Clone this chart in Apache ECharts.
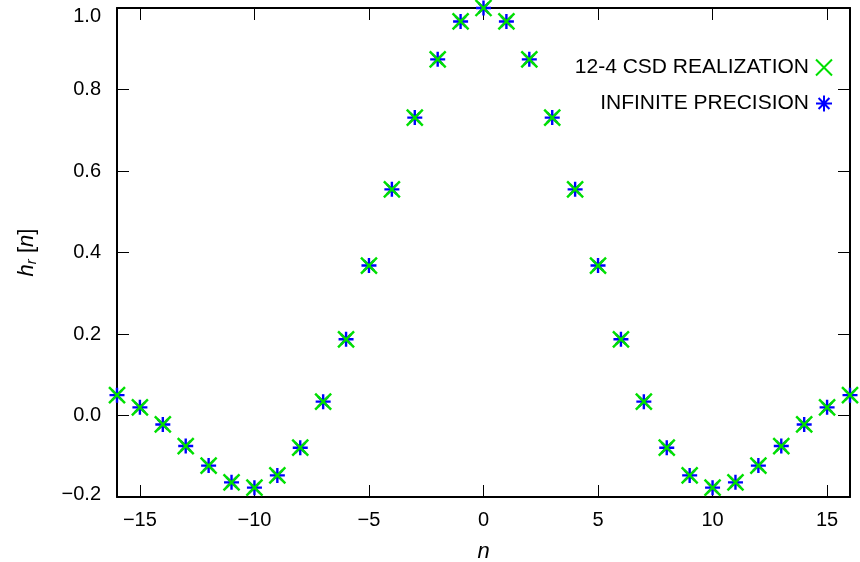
<!DOCTYPE html>
<html>
<head>
<meta charset="utf-8">
<script src="https://cdn.jsdelivr.net/npm/echarts@6/dist/echarts.min.js"></script>
<style>html,body{margin:0;padding:0;background:#fff}#c{width:860px;height:562px}</style>
</head>
<body>
<div id="c"></div>
<script>
const nValues = [-16,-15,-14,-13,-12,-11,-10,-9,-8,-7,-6,-5,-4,-3,-2,-1,0,1,2,3,4,5,6,7,8,9,10,11,12,13,14,15,16];
const csdValues = [0.05,0.02,-0.022,-0.075,-0.123,-0.164,-0.177,-0.147,-0.079,0.034,0.187,0.368,0.555,0.731,0.874,0.967,1.0,0.967,0.874,0.731,0.555,0.368,0.187,0.034,-0.079,-0.147,-0.177,-0.164,-0.123,-0.075,-0.022,0.02,0.05];
const infValues = [0.05,0.02,-0.022,-0.075,-0.123,-0.164,-0.177,-0.147,-0.079,0.034,0.187,0.368,0.555,0.731,0.874,0.967,1.0,0.967,0.874,0.731,0.555,0.368,0.187,0.034,-0.079,-0.147,-0.177,-0.164,-0.123,-0.075,-0.022,0.02,0.05];
const xTicks = [-15,-10,-5,0,5,10,15];
const seriesNames = ['12-4 CSD REALIZATION','INFINITE PRECISION'];

const FONT = 'Liberation Sans, Arial, Helvetica, sans-serif';
const XPATH = 'path://M0,0L10,10M10,0L0,10';
const STAR = 'path://M5,0L5,10M0,5L10,5M1.6,1.6L8.4,8.4M8.4,1.6L1.6,8.4';
const fmtX = v => String(v).replace('-', '\u2212');
const fmtY = v => {
  if (Math.abs(v) < 1e-9) return '0.0';
  const s = v.toFixed(1).replace('-', '\u2212');
  if (Math.abs(v - 1.0) < 1e-9) return '{top|' + s + '}';
  if (Math.abs(v + 0.2) < 1e-9) return '{bot|' + s + '}';
  return s;
};

const chart = echarts.init(document.getElementById('c'), null, {renderer:'canvas'});
const axisLine = {show:true, onZero:false, lineStyle:{color:'#000', width:2}};
const lblStyle = {fontFamily:FONT, fontSize:20, color:'#000'};
const tick = {show:true, inside:true, length:12, lineStyle:{color:'#000', width:1}};
chart.setOption({
  animation:false,
  backgroundColor:'#fff',
  grid:{left:117, right:10, top:8, bottom:65, containLabel:false, outerBoundsMode:'none'},
  legend:{
    orient:'vertical', right:22, top:52, align:'right', itemGap:15,
    itemWidth:16, itemHeight:16,
    textStyle:{fontFamily:FONT, fontSize:21, color:'#000', padding:[0,2,0,0]},
    data:seriesNames
  },
  xAxis:[{
    type:'value', min:-16, max:16, position:'bottom',
    name:'n', nameLocation:'middle', nameGap:44,
    nameTextStyle:{fontFamily:FONT, fontSize:22, fontStyle:'italic', color:'#000'},
    axisLine:axisLine,
    axisTick:Object.assign({customValues:xTicks}, tick),
    axisLabel:Object.assign({show:true, customValues:xTicks, formatter:fmtX, margin:13}, lblStyle),
    splitLine:{show:false}
  },{
    type:'value', min:-16, max:16, position:'top',
    axisLine:axisLine,
    axisTick:Object.assign({customValues:xTicks}, tick),
    axisLabel:{show:false}, splitLine:{show:false}
  }],
  yAxis:[{
    type:'value', min:-0.2, max:1.0, interval:0.2, position:'left',
    name:'{i|h}{s|r}{n| [}{i|n}{n|]}', nameLocation:'middle', nameGap:78,
    nameTextStyle:{rich:{
      i:{fontFamily:FONT, fontSize:22, fontStyle:'italic', color:'#000'},
      s:{fontFamily:FONT, fontSize:15, fontStyle:'italic', color:'#000', verticalAlign:'bottom', padding:[10,0,0,0]},
      n:{fontFamily:FONT, fontSize:22, color:'#000'}
    }},
    axisLine:axisLine,
    axisTick:tick,
    axisLabel:Object.assign({show:true, formatter:fmtY, margin:16, rich:{
      top:{fontFamily:FONT, fontSize:20, color:'#000', padding:[16,0,0,0]},
      bot:{fontFamily:FONT, fontSize:20, color:'#000', padding:[0,0,6,0]}
    }}, lblStyle),
    splitLine:{show:false}
  },{
    type:'value', min:-0.2, max:1.0, interval:0.2, position:'right',
    axisLine:axisLine,
    axisTick:tick,
    axisLabel:{show:false}, splitLine:{show:false}
  }],
  series:[{
    name:seriesNames[1], type:'scatter', z:2,
    data:nValues.map((n,i)=>[n, infValues[i]]),
    symbol:STAR, symbolSize:15,
    itemStyle:{color:'rgba(0,0,0,0)', borderColor:'#0000ff', borderWidth:2.4, opacity:1}
  },{
    name:seriesNames[0], type:'scatter', z:3,
    data:nValues.map((n,i)=>[n, csdValues[i]]),
    symbol:XPATH, symbolSize:16,
    itemStyle:{color:'rgba(0,0,0,0)', borderColor:'#00e000', borderWidth:2.4, opacity:1}
  }]
});
</script>
</body>
</html>
